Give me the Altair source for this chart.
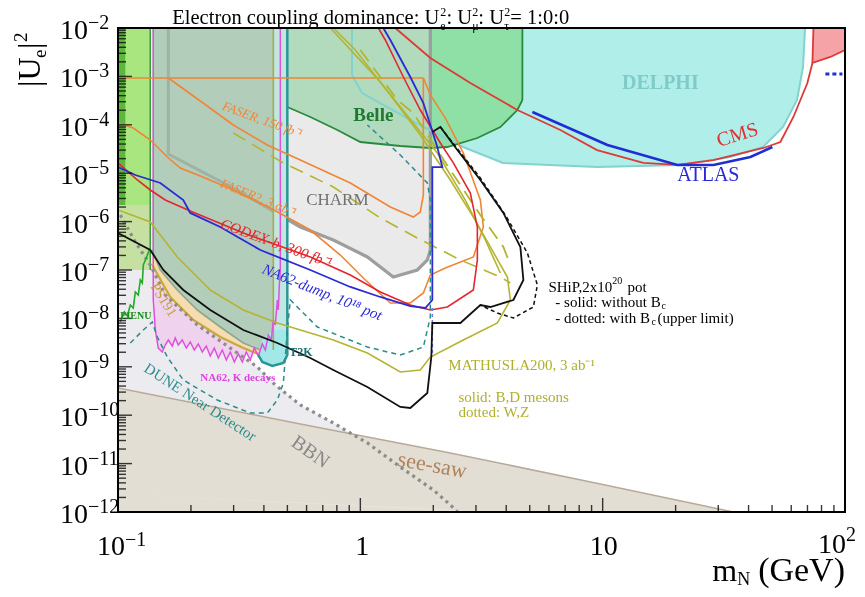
import altair as alt
import pandas as pd

W, H = 727, 484
XS = alt.Scale(type="log", domain=[0.1, 100], nice=False)
YS = alt.Scale(type="log", domain=[1e-12, 1e-2], nice=False)
SERIF = "Liberation Serif"

# ---------------- data (m_N in GeV, |U_e|^2) ----------------
BBN_M = [0.1, 0.1022, 0.1179, 0.1359, 0.1567, 0.2125, 0.3196, 0.3757, 0.4459, 0.5654, 0.7738, 1.069, 1.462, 2.001, 2.352, 2.514]
BBN_U = [1.6e-6, 1.37e-6, 3.79e-7, 1.27e-7, 3.04e-8, 7.31e-9, 1.75e-9, 9.9e-10, 4.2e-10, 1.63e-10, 6.9e-11, 2.67e-11, 8.51e-12, 2.85e-12, 1.4e-12, 1e-12]

SEESAW_M = [0.1, 0.5654, 2.352, 9.78, 34.63]
SEESAW_U = [3.65e-10, 6.58e-11, 1.66e-11, 3.79e-12, 1e-12]
LOWBAND_M = [0.1, 2.352, 3.128]
LOWBAND_U = [2.35e-12, 1.1e-12, 1e-12]

DELPHI_M = [0.924, 0.924, 1.016, 1.206, 1.764, 2.654, 3.88, 9.48, 20.9, 33.6, 45.9, 55.5, 63.4, 67.1, 68.4]
DELPHI_U = [1e-2, 1.07e-3, 4.54e-4, 2.82e-4, 9.9e-5, 3.48e-5, 1.63e-5, 1.34e-5, 1.48e-5, 2.16e-5, 3.48e-5, 9.0e-5, 3.25e-4, 1.56e-3, 1e-2]

BELLE_M = [0.4997, 0.4997, 0.622, 0.804, 1.0, 1.462, 1.945, 2.286, 3.04, 3.783, 4.446, 4.664, 4.664]
BELLE_U = [1e-2, 2.33e-4, 1.45e-4, 7.81e-5, 4.41e-5, 3.65e-5, 3.32e-5, 3.48e-5, 5.33e-5, 9.0e-5, 2.02e-4, 3.25e-4, 1e-2]

CHARM_M = [0.1613, 0.1613, 0.2991, 0.5654, 0.7738, 1.069, 1.368, 1.719, 1.89, 1.945, 1.945]
CHARM_U = [1e-2, 2.49e-5, 4.94e-6, 7.73e-7, 4.17e-7, 1.86e-7, 7.16e-8, 1e-7, 1.61e-7, 2.59e-7, 1e-2]
CHARM_IN_M = [0.1613, 0.1613, 0.2991, 0.4375]
CHARM_IN_U = [1e-2, 2.49e-5, 4.94e-6, 1.63e-6]

NA62K_M = [0.1398, 0.1398, 0.1426, 0.1466, 0.1523, 0.1567, 0.1613, 0.1675, 0.1723, 0.1773, 0.1842,
           0.1913, 0.1987, 0.2064, 0.2145, 0.2228, 0.2314, 0.2403, 0.2496, 0.2594, 0.2694, 0.2799,
           0.2907, 0.302, 0.3137, 0.3258, 0.3384, 0.3516, 0.3652, 0.3793, 0.394, 0.4055, 0.4172,
           0.4293, 0.4375, 0.4459, 0.4545, 0.4588, 0.4632, 0.4676, 0.4676]
NA62K_U = [1e-2, 2.4e-8, 5.76e-9, 2.44e-9, 2.02e-9, 2.82e-9, 3.58e-9, 2.69e-9, 3.94e-9, 2.82e-9, 3.58e-9,
           2.44e-9, 3.25e-9, 2.22e-9, 2.96e-9, 2.02e-9, 2.69e-9, 1.67e-9, 2.44e-9, 1.52e-9, 2.22e-9, 1.38e-9,
           2.02e-9, 1.26e-9, 1.84e-9, 1.26e-9, 2.02e-9, 1.38e-9, 2.44e-9, 1.67e-9, 2.96e-9, 2.22e-9, 4.54e-9,
           3.58e-9, 9.27e-9, 7.31e-9, 2.4e-8, 1.49e-8, 4.9e-8, 1e-7, 1e-2]

PS191_M = [0.1385, 0.1385, 0.1495, 0.1756, 0.2125, 0.2643, 0.3289, 0.3866, 0.4375, 0.4375]
PS191_U = [1e-2, 2.59e-7, 1e-7, 3.86e-8, 1.49e-8, 6.64e-9, 3.1e-9, 2.22e-9, 2.22e-9, 1e-2]
PS191_LOW_M = [0.3793, 0.3289, 0.2643, 0.2046, 0.1643, 0.1385]
PS191_LOW_U = [1.84e-9, 2.44e-9, 4.13e-9, 9.27e-9, 2.77e-8, 1.27e-7]

T2K_M = [0.4375, 0.4997, 0.4997, 0.4811, 0.4334, 0.394, 0.3793, 0.394, 0.4375]
T2K_U = [1e-2, 1e-2, 1.75e-9, 1.2e-9, 1.04e-9, 1.26e-9, 1.75e-9, 3.58e-9, 5.76e-9]
T2K_BLOB_M = [0.4997, 0.4997, 0.4811, 0.4334, 0.394, 0.3793, 0.394, 0.4375]
T2K_BLOB_U = [5.76e-9, 1.75e-9, 1.2e-9, 1.04e-9, 1.26e-9, 1.75e-9, 3.58e-9, 5.76e-9]

PIENU_M = [0.1022, 0.1062, 0.1093, 0.1124, 0.1156, 0.1179, 0.1213, 0.1236, 0.126, 0.1272, 0.1308, 0.1346]
PIENU_U = [8.43e-9, 1.36e-8, 1.12e-8, 1.89e-8, 1.64e-8, 3.51e-8, 3.04e-8, 6.21e-8, 5.38e-8, 1.27e-7, 1.77e-7, 2.59e-7]

GREEN_M = [0.1, 0.1359, 0.1359, 0.1]
GREEN_U = [1e-2, 1e-2, 2.2e-6, 2.2e-6]
GREEN_LOW_U = [2.2e-6, 2.2e-6, 1e-7, 1e-7]
GREEN_STRIP_M = [0.1, 0.1072, 0.1072, 0.1]

FASER_M = [0.1613, 0.2186, 0.2991, 0.4132, 0.5654, 0.9094, 1.33, 1.654, 1.768, 1.82, 1.82]
FASER_U = [9.27e-4, 3.1e-4, 9.9e-5, 3.83e-5, 1.87e-5, 6.28e-6, 2.0e-6, 1.24e-6, 1.58e-6, 3.55e-6, 9.27e-4]
FASER2_M = [0.1, 0.1156, 0.1359, 0.1598, 0.1807, 0.2186, 0.2991, 0.4252, 0.6218, 0.8268, 1.049, 1.33,
            1.608, 1.82, 1.945, 2.243, 2.927, 3.218, 3.128, 2.661, 2.243, 1.945, 1.82]
FASER2_U = [1.09e-4, 8.59e-5, 4.85e-5, 2.16e-5, 1.28e-5, 8.75e-6, 4.5e-6, 1.91e-6, 6.7e-7, 2.04e-7, 6.21e-8, 2.08e-8,
            2.08e-8, 3.35e-8, 7.88e-8, 1.1e-7, 1.86e-7, 7.73e-7, 2.79e-6, 2.61e-5, 1.38e-4, 4.13e-4, 9.27e-4]
FASER_TOP_M = [0.1, 0.1, 1.82]
FASER_TOP_U = [1.09e-4, 9.27e-4, 9.27e-4]

CODEX_M = [0.1, 0.1202, 0.1359, 0.1567, 0.1987, 0.3289, 0.6218, 0.9094, 1.209, 1.608, 1.945, 2.286, 2.927,
           3.04, 3.04, 2.844, 2.42, 2.139, 1.768, 1.505, 1.268, 1.187]
CODEX_U = [1.63e-5, 7.24e-6, 4.5e-6, 2.79e-6, 1.66e-6, 5.81e-7, 1.86e-7, 7.88e-8, 3.51e-8, 1.89e-8, 1.49e-8, 1.72e-8,
           3.86e-8, 1.61e-7, 7.73e-7, 3.9e-6, 1.63e-5, 4.21e-5, 2.02e-4, 9.72e-4, 5.65e-3, 1e-2]

NA62D_M = [0.1, 0.1179, 0.1495, 0.186, 0.1987, 0.2643, 0.3866, 0.6218, 0.9094, 1.209, 1.608, 1.855, 1.982,
           1.982, 2.18, 2.078, 1.82, 1.608, 1.33, 1.244]
NA62D_U = [1.34e-5, 9.18e-6, 6.28e-6, 2.79e-6, 1.51e-6, 7.73e-7, 2.59e-7, 1e-7, 4.46e-8, 2.77e-8, 1.8e-8, 1.64e-8,
           2.4e-8, 1.34e-5, 1.34e-5, 3.48e-5, 2.82e-4, 9.72e-4, 5.65e-3, 1e-2]
NA62D_TAIL_M = [1.982, 1.982]
NA62D_TAIL_U = [1.64e-8, 1.75e-9]

SHIP_M = [0.1, 0.1359, 0.1538, 0.186, 0.2403, 0.3289, 0.4545, 0.6218, 0.7738, 1.069, 1.462, 1.608, 1.89,
          1.963, 1.982, 2.587, 3.128, 3.44, 4.281, 4.708, 4.575, 3.893, 3.128, 2.514, 2.139, 1.982]
SHIP_U = [5.81e-7, 2.59e-7, 1e-7, 3.86e-8, 1.49e-8, 5.76e-9, 3.1e-9, 1.52e-9, 8.59e-10, 3.83e-10, 1.48e-10,
          1.41e-10, 2.88e-10, 1.59e-9, 8.04e-9, 8.04e-9, 1.89e-8, 1.72e-8, 2.4e-8, 6.21e-8, 2.99e-7, 1.51e-6,
          7.24e-6, 3.01e-5, 9.0e-5, 7.1e-5]
SHIPBC_M = [2.139, 3.128, 3.966, 4.89, 5.377, 5.176, 4.281, 3.677, 3.128]
SHIPBC_U = [9.0e-5, 7.96e-6, 1.37e-6, 2.25e-7, 4.9e-8, 1.72e-8, 1.02e-8, 1.29e-8, 1.89e-8]

MATH_M = [0.1, 0.1359, 0.1756, 0.2403, 0.3289, 0.4545, 0.5654, 0.7738, 1.069, 1.462, 1.768, 1.945, 2.661,
          3.677, 4.16, 4.044, 3.44, 2.927, 2.352, 1.768, 1.33, 0.9536, 0.7738]
MATH_U = [1.74e-6, 9.8e-7, 1.86e-7, 3.86e-8, 1.49e-8, 8.04e-9, 5.76e-9, 3.58e-9, 1.93e-9, 7.82e-10, 8.59e-10,
          1.59e-9, 3.58e-9, 8.04e-9, 2.4e-8, 7.16e-8, 2.99e-7, 1.24e-6, 7.24e-6, 6.15e-5, 4.13e-4, 3.51e-3, 1e-2]
MATH2_M = [0.7517, 1.209, 2.078, 2.711, 3.28, 3.783]
MATH2_U = [1e-2, 7.66e-4, 2.61e-5, 2.79e-6, 4.17e-7, 8.67e-8]
MATHWZ_M = [0.2991, 0.4811, 0.7738, 1.209, 1.719, 2.587, 3.783, 4.16]
MATHWZ_U = [6.77e-5, 1.63e-5, 5.19e-6, 1.19e-6, 4.58e-7, 1.61e-7, 7.16e-8, 5.38e-8]
MATHWZ2_M = [1.0, 1.421, 1.654, 2.352, 3.128, 3.893, 4.16]
MATHWZ2_U = [3.51e-3, 3.25e-4, 1.75e-4, 1.16e-5, 1.37e-6, 2.99e-7, 1.27e-7]

DUNE_M = [0.1124, 0.1272, 0.1385, 0.1453, 0.1598, 0.186, 0.2569, 0.3516, 0.4132, 0.4545, 0.4811, 0.4903,
          0.4997, 0.5141, 0.6646, 1.069, 1.462, 1.82, 1.945, 1.945, 1.89, 1.462, 1.069]
DUNE_U = [3.1e-9, 5.76e-9, 8.43e-9, 4.13e-9, 1.59e-9, 5.33e-10, 2.06e-10, 1.11e-10, 1.11e-10, 2.06e-10,
          4.62e-10, 1.59e-9, 5.76e-9, 2.4e-8, 6.64e-9, 2.56e-9, 1.75e-9, 2.56e-9, 1.07e-8, 2.79e-6, 6.28e-6,
          2.38e-5, 9.9e-5]

CMS_M = [1.394, 1.945, 2.844, 4.446, 6.69, 9.48, 14.72, 20.34, 28.64, 46.05, 54.13, 61.24, 69.95, 73.38, 87.04, 100]
CMS_U = [1e-2, 2.4e-3, 7.31e-4, 2.02e-4, 7.81e-5, 3.01e-5, 1.63e-5, 1.48e-5, 1.87e-5, 3.32e-5, 4.41e-5,
         1.45e-4, 7.31e-4, 1.89e-3, 2.52e-3, 3.51e-3]
CMSREG_M = [73.38, 74.08, 100, 100, 87.04]
CMSREG_U = [1.89e-3, 1e-2, 1e-2, 3.51e-3, 2.52e-3]

ATLAS_M = [5.128, 10.46, 20.34, 28.64, 40.7, 50.15]
ATLAS_U = [1.84e-4, 3.83e-5, 1.48e-5, 1.48e-5, 2.16e-5, 3.48e-5]
ATLAS_HI_M = [83.0, 97.57]
ATLAS_HI_U = [1.12e-3, 1.12e-3]

Y_MAJOR = [10.0 ** e for e in range(-12, -1)]
Y_MINOR = [k * 10.0 ** e for e in range(-12, -2) for k in range(2, 10)]
X_MAJOR = [0.1, 1.0, 10.0, 100.0]
X_MINOR = [k * 10.0 ** e for e in range(-1, 2) for k in range(2, 10)]
Y_EXP = [-2, -3, -4, -5, -6, -7, -8, -9, -10, -11, -12]


# ---------------- helpers ----------------
def frame(ms, us):
    return pd.DataFrame({"m": ms, "u": us, "i": list(range(len(ms)))})


def enc(ch):
    return ch.encode(x=alt.X("m:Q", scale=XS, axis=None),
                     y=alt.Y("u:Q", scale=YS, axis=None),
                     order="i:Q")


def poly(ms, us, fill, **kw):
    return enc(alt.Chart(frame(ms, us)).mark_line(fill=fill, strokeWidth=0, clip=True, **kw))


def curve(ms, us, color, width=1.6, **kw):
    return enc(alt.Chart(frame(ms, us)).mark_line(color=color, strokeWidth=width, clip=True, **kw))


def txt(s, m, u, size=14, color="black", **kw):
    df = pd.DataFrame({"m": [m], "u": [u], "t": [s]})
    kw.setdefault("font", SERIF)
    return alt.Chart(df).mark_text(fontSize=size, color=color, **kw).encode(
        x=alt.X("m:Q", scale=XS, axis=None), y=alt.Y("u:Q", scale=YS, axis=None), text="t:N")


def yticks(vals, length):
    return alt.Chart(pd.DataFrame({"v": vals})).mark_rule(color="#151515", strokeWidth=1.4, opacity=0.85).encode(
        y=alt.Y("v:Q", scale=YS, axis=None), x=alt.value(0), x2=alt.value(length))


def xticks(vals, length):
    return alt.Chart(pd.DataFrame({"v": vals})).mark_rule(color="#151515", strokeWidth=1.4, opacity=0.85).encode(
        x=alt.X("v:Q", scale=XS, axis=None), y=alt.value(H), y2=alt.value(H - length))


ORANGE = "#f08536"
RED = "#e4262e"
BLUE = "#2a2ad6"
OLIVE = "#b4b432"
TEAL = "#2b8c8c"
MAGENTA = "#e050dc"

layers = []
# ---- filled regions ----
layers.append(poly(BBN_M + [0.1], BBN_U + [1e-12], "#ececf0"))
layers.append(poly(SEESAW_M + [0.1], SEESAW_U + [1e-12], "#e2ded4"))
layers.append(poly(LOWBAND_M, LOWBAND_U, "#eeede7"))
layers.append(curve(SEESAW_M, SEESAW_U, "#b8a998", 1.5))
layers.append(poly(DELPHI_M, DELPHI_U, "#b0eeea"))
layers.append(poly(BELLE_M, BELLE_U, "#8fe0a6", blend="multiply"))
layers.append(poly(CHARM_M, CHARM_U, "#d6d6d6", fillOpacity=0.5))
layers.append(curve(CHARM_M, CHARM_U, "#9e9e9e", 3.2))
layers.append(poly(NA62K_M, NA62K_U, "#efd3ee"))
layers.append(poly(PS191_M[1:8] + PS191_LOW_M, PS191_U[1:8] + PS191_LOW_U, "#f6dcae"))
layers.append(poly(PS191_M, PS191_U, "#b3cdbb"))
layers.append(curve(CHARM_IN_M, CHARM_IN_U, "#9db3a5", 3))
layers.append(curve(PS191_M[1:9], PS191_U[1:9], "#8ea88e", 1.6))
layers.append(poly(T2K_M, T2K_U, "#c2e7e2"))
layers.append(poly(T2K_BLOB_M, T2K_BLOB_U, "#a2e8e8"))
layers.append(poly(GREEN_M, GREEN_U, "#a9e67f"))
layers.append(poly(GREEN_M, GREEN_LOW_U, "#c6e0a2"))
layers.append(poly(GREEN_STRIP_M, GREEN_U, "#5cb83c"))
layers.append(curve([0.1359, 0.1359], [1e-2, 1e-7], "#3a9a3a", 1.6))
layers.append(poly(CMSREG_M, CMSREG_U, "#f5a3a6"))

# ---- outlines and curves ----
layers.append(curve(DELPHI_M, DELPHI_U, "#84d2ce", 2))
layers.append(curve(BELLE_M[1:12], BELLE_U[1:12], "#2a8a3c", 1.8))
layers.append(curve(BELLE_M[11:], BELLE_U[11:], "#2a8a3c", 1.8))
layers.append(curve(PS191_LOW_M, PS191_LOW_U, "#c9a93c", 2.2))
layers.append(curve([0.4375, 0.4375], [1e-2, 2.22e-9], "#a9a94a", 1.6))
layers.append(curve(NA62K_M, NA62K_U, MAGENTA, 1.5))
layers.append(curve(T2K_M[1:7], T2K_U[1:7], "#2a9696", 2.5))
layers.append(curve(BBN_M[1:], BBN_U[1:], "#8c8c8c", 3.2, strokeDash=[3, 4]))
layers.append(curve(DUNE_M, DUNE_U, TEAL, 1.5, strokeDash=[5, 4]))
layers.append(curve(PIENU_M, PIENU_U, "#22aa2a", 1.6))
layers.append(curve(FASER_TOP_M, FASER_TOP_U, ORANGE, 1.6))
layers.append(curve(FASER_M, FASER_U, ORANGE, 1.6))
layers.append(curve(FASER2_M, FASER2_U, ORANGE, 1.6))
layers.append(curve(MATH_M, MATH_U, OLIVE, 1.6))
layers.append(curve(MATH2_M, MATH2_U, OLIVE, 1.6))
layers.append(curve(MATHWZ_M, MATHWZ_U, OLIVE, 1.6, strokeDash=[14, 8]))
layers.append(curve(MATHWZ2_M, MATHWZ2_U, OLIVE, 1.8, strokeDash=[14, 8]))
layers.append(curve(CODEX_M, CODEX_U, RED, 1.6))
layers.append(curve(NA62D_M, NA62D_U, BLUE, 1.8))
layers.append(curve(NA62D_TAIL_M, NA62D_TAIL_U, "#6a7ae6", 1.5, strokeDash=[3, 3]))
layers.append(curve(SHIP_M, SHIP_U, "#111111", 1.8))
layers.append(curve(SHIPBC_M, SHIPBC_U, "#111111", 1.5, strokeDash=[4, 3]))
layers.append(curve(CMS_M, CMS_U, "#dc3a36", 1.8))
layers.append(curve(CMSREG_M[:2], CMSREG_U[:2], "#dc3a36", 1.8))
layers.append(curve(ATLAS_M, ATLAS_U, "#1f2ed4", 2.6))
layers.append(curve(ATLAS_HI_M, ATLAS_HI_U, "#1f2ed4", 3, strokeDash=[4, 3]))

# ---- ticks ----
layers.append(yticks(Y_MAJOR, 14))
layers.append(yticks(Y_MINOR, 8))
layers.append(xticks(X_MAJOR, 14))
layers.append(xticks(X_MINOR, 7))

# ---- frame ----
layers.append(alt.Chart(pd.DataFrame({"a": [0]})).mark_rect(fillOpacity=0, stroke="black", strokeWidth=2).encode(
    x=alt.value(0), x2=alt.value(W), y=alt.value(0), y2=alt.value(H)))

# ---- tick labels ----
for e in Y_EXP:
    layers.append(txt("10", 0.1, 10.0 ** e, 28, align="right", baseline="middle", dx=-30, dy=3))
    layers.append(txt("\u2212" + str(-e), 0.1, 10.0 ** e, 20, align="left", baseline="middle", dx=-30, dy=-5))
layers.append(txt("10", 0.1, 1e-12, 28, align="right", baseline="middle", dx=7, dy=35))
layers.append(txt("\u22121", 0.1, 1e-12, 20, align="left", baseline="middle", dx=7, dy=28))
layers.append(txt("1", 1.0, 1e-12, 28, align="center", baseline="middle", dx=2, dy=35))
layers.append(txt("10", 10.0, 1e-12, 28, align="center", baseline="middle", dx=1, dy=35))
layers.append(txt("10", 100.0, 1e-12, 28, align="right", baseline="middle", dx=1, dy=33))
layers.append(txt("2", 100.0, 1e-12, 20, align="left", baseline="middle", dx=1, dy=23))

# ---- axis titles ----
layers.append(txt("m", 28.36, 1e-12, 32, align="left", baseline="alphabetic", dy=69))
layers.append(txt("N", 35.96, 1e-12, 18, align="left", baseline="alphabetic", dy=73))
layers.append(txt("(GeV)", 100.0, 1e-12, 34, align="right", baseline="alphabetic", dy=69))
YT_M, YT_U = 0.0478, 6.04e-4
layers.append(txt("|U", YT_M, YT_U, 32, angle=270, align="left", baseline="alphabetic"))
layers.append(txt("e", YT_M, YT_U, 19, angle=270, align="left", baseline="alphabetic", dx=29, dy=6))
layers.append(txt("|", YT_M, YT_U, 32, angle=270, align="left", baseline="alphabetic", dx=38))
layers.append(txt("2", YT_M, YT_U, 19, angle=270, align="left", baseline="alphabetic", dx=45, dy=-13))

# ---- title ----
T_U, TS_U, TB_U = 1.21e-2, 1.73e-2, 9.3e-3
layers.append(txt("Electron coupling dominance: U", 0.1675, T_U, 20.5, align="left", baseline="alphabetic"))
for mx, sub in [(2.139, "e"), (2.899, "\u03bc"), (3.929, "\u03c4")]:
    layers.append(txt("2", mx, TS_U, 12, align="left", baseline="alphabetic"))
    layers.append(txt(sub, mx, TB_U, 12, align="left", baseline="alphabetic"))
layers.append(txt(": U", 2.265, T_U, 20.5, align="left", baseline="alphabetic"))
layers.append(txt(": U", 3.069, T_U, 20.5, align="left", baseline="alphabetic"))
layers.append(txt(" = 1:0:0", 4.16, T_U, 20.5, align="left", baseline="alphabetic"))

# ---- in-plot labels ----
layers.append(txt("DELPHI", 17.3, 7.31e-4, 20, "#80cbc8", fontWeight="bold"))
layers.append(txt("CMS", 35.96, 6.15e-5, 20, "#e03030", angle=343))
layers.append(txt("ATLAS", 27.3, 9.18e-6, 20, "#2828d8"))
layers.append(txt("Belle", 1.131, 1.59e-4, 19, "#1f7a30", fontWeight="bold"))
layers.append(txt("CHARM", 0.804, 2.79e-6, 17, "#707070"))
layers.append(txt("FASER, 150 fb\u207b\u00b9", 0.394, 1.26e-4, 13, ORANGE, fontStyle="italic", angle=20))
layers.append(txt("FASER2, 3 ab\u207b\u00b9", 0.3793, 3.08e-6, 13, ORANGE, fontStyle="italic", angle=22))
layers.append(txt("CODEX-b, 300 fb\u207b\u00b9", 0.45, 3.61e-7, 15, RED, fontStyle="italic", angle=20))
layers.append(txt("NA62-dump, 10\u00b9\u2078 pot", 0.697, 3.51e-8, 15, BLUE, fontStyle="italic", angle=22))
layers.append(txt("SHiP,2x10", 5.97, 4.46e-8, 15, align="left"))
layers.append(txt("20", 10.96, 4.46e-8, 10, align="left", dy=-6))
layers.append(txt("pot", 12.65, 4.46e-8, 15, align="left"))
layers.append(txt("- solid:  without B", 6.38, 2.18e-8, 15, align="left"))
layers.append(txt("c", 17.47, 2.18e-8, 10, align="left", dy=4))
layers.append(txt("- dotted: with B", 6.38, 1.02e-8, 15, align="left"))
layers.append(txt("c", 15.89, 1.02e-8, 10, align="left", dy=4))
layers.append(txt("(upper limit)", 16.82, 1.02e-8, 15, align="left"))
layers.append(txt("MATHUSLA200, 3 ab\u207b\u00b9", 2.308, 1.09e-9, 15, "#b0b02c", align="left"))
layers.append(txt("solid: B,D mesons", 2.539, 2.38e-10, 15, "#b0b02c", align="left"))
layers.append(txt("dotted: W,Z", 2.539, 1.16e-10, 15, "#b0b02c", align="left"))
layers.append(txt("see-saw", 1.982, 9.35e-12, 22, "#b0825a", angle=10))
layers.append(txt("BBN", 0.6218, 1.74e-11, 20, "#888888", angle=35))
layers.append(txt("DUNE Near Detector", 0.2186, 1.87e-10, 15, TEAL, angle=33))
layers.append(txt("NA62, K decays", 0.2186, 5.87e-10, 11, "#e040e0", align="left", fontWeight="bold"))
layers.append(txt("T2K", 0.5093, 2.02e-9, 12, "#1a6f6f", align="left", fontWeight="bold"))
layers.append(txt("PS191", 0.1538, 2.4e-8, 14, "#c0a030", angle=58))
layers.append(txt("PIENU", 0.1022, 1.12e-8, 10, "#189018", align="left", fontWeight="bold"))

chart = alt.layer(*layers).properties(
    width=W, height=H,
    padding={"left": 110, "top": 20, "right": 12, "bottom": 77},
    autosize=alt.AutoSizeParams(type="none"),
).configure_view(stroke=None)

chart.save("out.html", embed_options={"renderer": "svg", "actions": False})
